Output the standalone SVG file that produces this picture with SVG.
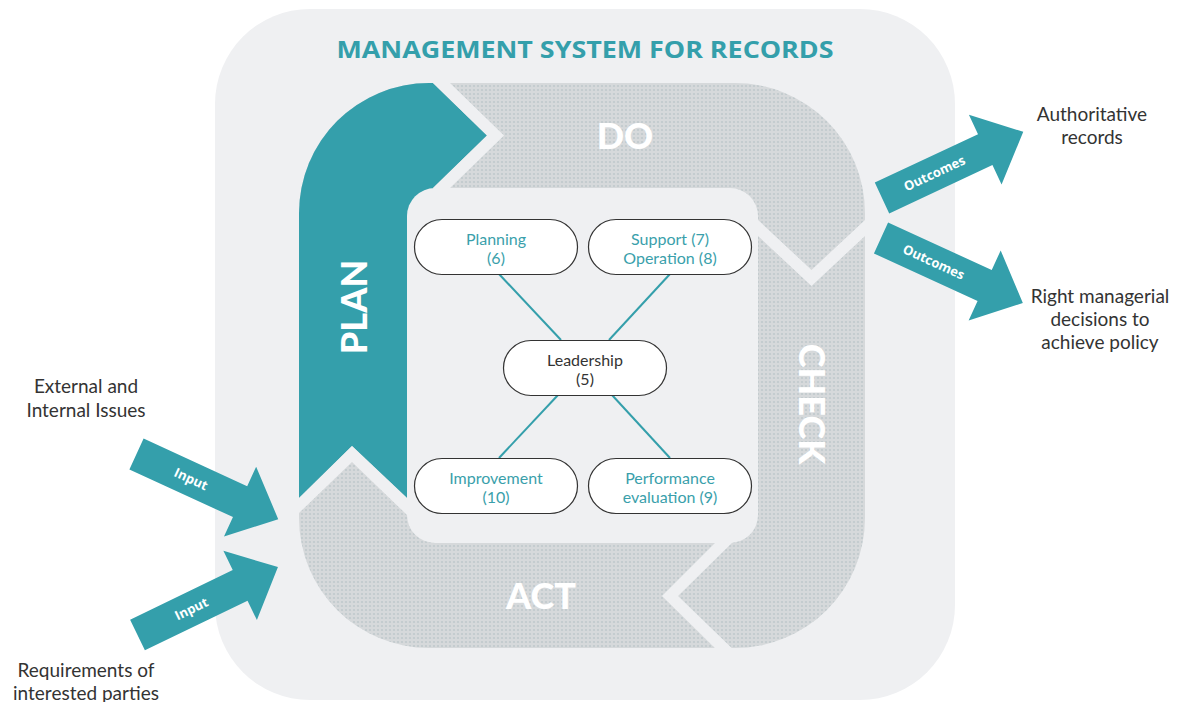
<svg xmlns="http://www.w3.org/2000/svg" width="1189" height="702" viewBox="0 0 1189 702">
<style>
.lbl{font-family:Lato,"Open Sans","Liberation Sans",sans-serif;font-size:19px;fill:#333;text-anchor:middle}
.ntx{font-family:Lato,"Open Sans","Liberation Sans",sans-serif;font-size:16px;fill:#3a9fab;text-anchor:middle}
.ntk{font-family:Lato,"Open Sans","Liberation Sans",sans-serif;font-size:16px;fill:#333;text-anchor:middle}
.nbox{fill:#fff;stroke:#333;stroke-width:1.2}
.big{font-family:Lato,"Open Sans","Liberation Sans",sans-serif;font-weight:900;font-size:36px;fill:#fff;text-anchor:middle}
.atx{font-family:"Open Sans",Lato,"Liberation Sans",sans-serif;font-weight:bold;font-size:13px;fill:#fff;text-anchor:middle}
.gap{fill:#eff0f2}
.conn{stroke:#349fab;stroke-width:2;fill:none}
</style>
<defs>
<pattern id="dots" width="4" height="4" patternUnits="userSpaceOnUse">
<rect width="4" height="4" fill="#d6d9db"/>
<circle cx="2" cy="2" r="1.1" fill="#c0c9cc"/>
</pattern>
<clipPath id="ringclip"><rect x="299" y="83" width="566" height="565" rx="130"/></clipPath>
<path id="arrow" d="M0,-17 L114,-17 L114,-38.5 L156,0 L114,38.5 L114,17 L0,17 Z" fill="#349fab"/>
</defs>

<rect x="215" y="9" width="740" height="691" rx="95" fill="#eff0f2"/>
<text x="585" y="58" font-family="'Open Sans',Lato,'Liberation Sans',sans-serif" font-weight="bold" font-size="24" fill="#349fab" text-anchor="middle" textLength="497" lengthAdjust="spacingAndGlyphs">MANAGEMENT SYSTEM FOR RECORDS</text>

<g id="cycle">
<rect x="299" y="83" width="566" height="565" rx="130" fill="url(#dots)"/>
<g clip-path="url(#ringclip)">
<polygon points="280,70 419.6,70 487,135.5 433,188 433,300 407,300 407,498 352,446 290,506.8 280,506.8" fill="#349fab"/>
<polygon class="gap" points="419.6,70 436.6,70 504,135.5 450,188 433,188 487,135.5"/>
<polygon class="gap" points="750,212.5 811.5,270 873,212.5 873,228.5 811.5,286 750,228.5"/>
<polygon class="gap" points="723,535 740,535 678,596 740,656 723,656 662,596"/>
<polygon class="gap" points="290,506.8 352,446 407,498 407,515 352,462 290,521.7"/>
</g>
<rect x="407" y="188" width="351" height="355" rx="28" fill="#eff0f2"/>
<text class="big" x="625" y="149">DO</text>
<text class="big" transform="translate(354,307) rotate(-90)" x="0" y="13">PLAN</text>
<text class="big" transform="translate(812,404) rotate(90)" x="0" y="13">CHECK</text>
<text class="big" x="541" y="609">ACT</text>
</g>

<g id="connectors">
<line class="conn" x1="499" y1="274" x2="561" y2="340"/>
<line class="conn" x1="670" y1="274" x2="609" y2="340"/>
<line class="conn" x1="558" y1="395" x2="499" y2="458"/>
<line class="conn" x1="612" y1="395" x2="670" y2="458"/>
</g>

<g id="node-planning">
<rect class="nbox" x="414.5" y="219.5" width="163" height="55" rx="27.5"/>
<text class="ntx" x="496" y="245">Planning</text>
<text class="ntx" x="496" y="264">(6)</text>
</g>
<g id="node-support">
<rect class="nbox" x="588.5" y="219.5" width="163" height="55" rx="27.5"/>
<text class="ntx" x="670" y="245">Support (7)</text>
<text class="ntx" x="670" y="264">Operation (8)</text>
</g>
<g id="node-leadership">
<rect class="nbox" x="503.5" y="340.5" width="163" height="55" rx="27.5"/>
<text class="ntk" x="585" y="366">Leadership</text>
<text class="ntk" x="585" y="385">(5)</text>
</g>
<g id="node-improvement">
<rect class="nbox" x="414.5" y="458.5" width="163" height="55" rx="27.5"/>
<text class="ntx" x="496" y="484">Improvement</text>
<text class="ntx" x="496" y="503">(10)</text>
</g>
<g id="node-performance">
<rect class="nbox" x="588.5" y="458.5" width="163" height="55" rx="27.5"/>
<text class="ntx" x="670" y="484">Performance</text>
<text class="ntx" x="670" y="503">evaluation (9)</text>
</g>

<g id="arrow-input1" transform="translate(136.5,454) rotate(24.7)">
<use href="#arrow"/>
<text class="atx" x="60" y="4.5">Input</text>
</g>
<g id="arrow-input2" transform="translate(137.5,635) rotate(-25.8)">
<use href="#arrow"/>
<text class="atx" x="60" y="4.5">Input</text>
</g>
<g id="arrow-outcomes1" transform="translate(882,198) rotate(-25.1)">
<use href="#arrow"/>
<text class="atx" x="58" y="4.5">Outcomes</text>
</g>
<g id="arrow-outcomes2" transform="translate(881,238) rotate(24.6)">
<use href="#arrow"/>
<text class="atx" x="58" y="4.5">Outcomes</text>
</g>

<g id="labels">
<text class="lbl" x="86" y="393">External and</text>
<text class="lbl" x="86" y="417">Internal Issues</text>
<text class="lbl" x="86" y="677">Requirements of</text>
<text class="lbl" x="86" y="700">interested parties</text>
<text class="lbl" x="1092" y="121">Authoritative</text>
<text class="lbl" x="1092" y="144">records</text>
<text class="lbl" x="1100" y="303">Right managerial</text>
<text class="lbl" x="1100" y="326">decisions to</text>
<text class="lbl" x="1100" y="349">achieve policy</text>
</g>
</svg>
